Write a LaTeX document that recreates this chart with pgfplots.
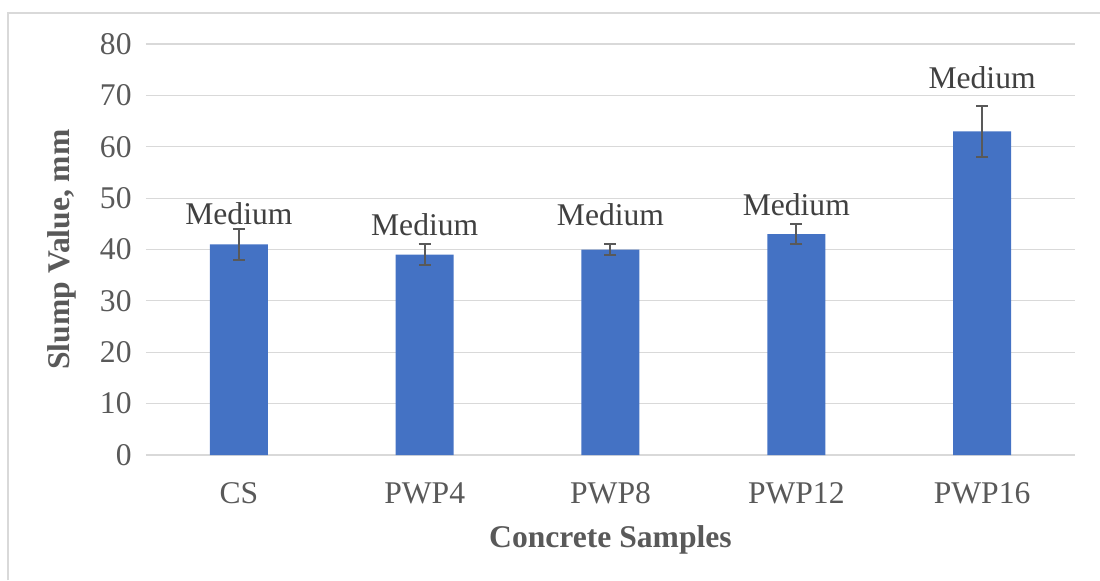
\documentclass[border=0pt]{standalone}
\usepackage{pgfplots}
\pgfplotsset{compat=1.18}
\usepackage{fontspec}
\setmainfont{Liberation Serif}
\definecolor{barblue}{HTML}{4472C4}
\definecolor{gridgray}{HTML}{D9D9D9}
\definecolor{txtgray}{HTML}{595959}
\definecolor{lblgray}{HTML}{404040}
\begin{document}
\begin{tikzpicture}[x=1pt,y=1pt]
\path[use as bounding box] (0,0) rectangle (550,290);
\draw[gridgray, line width=0.6pt] (4,0) -- (4,283.5) -- (550,283.5);
\begin{axis}[
 at={(73pt,62.5pt)}, anchor=south west,
 scale only axis, width=464.5pt, height=205.5pt,
 xmin=-0.5, xmax=4.5, ymin=0, ymax=80,
 ytick={0,10,...,80},
 xtick={0,...,4}, xticklabels={CS,PWP4,PWP8,PWP12,PWP16},
 major tick length=0pt,
 axis line style={draw=none},
 ymajorgrids, grid style={gridgray, line width=0.6pt},
 tick label style={font=\fontsize{15.8}{19}\selectfont, text=txtgray},
 /pgf/number format/assume math mode=true,
 xticklabel style={anchor=base, yshift=-24pt, inner sep=0pt},
 yticklabel style={anchor=east, xshift=-7pt, inner sep=0pt},
 xlabel={Concrete Samples}, ylabel={Slump Value, mm},
 every axis x label/.style={at={(axis description cs:0.5,0)}, yshift=-46pt, anchor=base, font=\fontsize{15.8}{19}\selectfont\bfseries, text=txtgray},
 every axis y label/.style={at={(axis description cs:0,0.5)}, xshift=-42pt, rotate=90, anchor=center, font=\fontsize{15.8}{19}\selectfont\bfseries, text=txtgray},
 clip=false,
]
\addplot[ybar, bar width=29pt, fill=barblue, draw=none,
  error bars/.cd, y dir=both, y explicit,
  error bar style={txtgray, line width=1pt},
  error mark options={rotate=90, mark size=3pt, txtgray, line width=1pt}]
  coordinates {(0,41) +- (0,3) (1,39) +- (0,2) (2,40) +- (0,1) (3,43) +- (0,2) (4,63) +- (0,5)};
\addplot[only marks, mark=none, nodes near coords={Medium},
  every node near coord/.style={anchor=base, inner sep=0pt, font=\fontsize{15.8}{19}\selectfont, text=lblgray}]
  coordinates {(0,44.8) (1,42.8) (2,44.6) (3,46.7) (4,71.4)};
\end{axis}
\end{tikzpicture}
\end{document}
